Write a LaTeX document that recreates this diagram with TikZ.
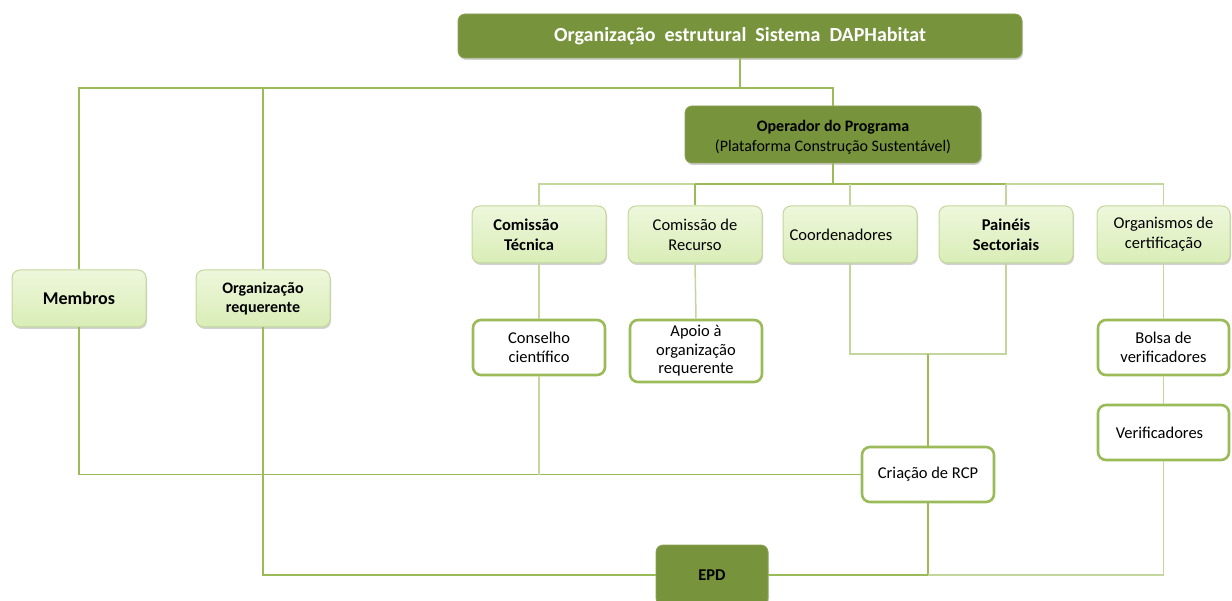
\documentclass[tikz,border=0pt]{standalone}
\usepackage{fontspec}
\setmainfont{Carlito}
\usetikzlibrary{shadows}
\definecolor{dkgreen}{HTML}{77933C}
\definecolor{lngreen}{HTML}{9BBB59}
\definecolor{ltline}{HTML}{C3D69B}
\definecolor{fillA}{HTML}{EEF7DC}
\definecolor{fillB}{HTML}{D9EDB6}
\tikzset{
  x=1pt, y=-1pt,
  shad/.style={drop shadow={shadow xshift=1pt,shadow yshift=-2pt,opacity=0.3,fill=black!60}},
  darkbox/.style={rectangle, rounded corners=7pt, fill=dkgreen, draw=dkgreen!85!white, line width=0.8pt, shad, align=center, inner sep=2pt},
  lightbox/.style={rectangle, rounded corners=8pt, top color=fillA, bottom color=fillB, draw=ltline, line width=1pt, shad, align=center, minimum width=134pt, minimum height=57pt, inner sep=2pt, font=\fontsize{16.5}{20}\selectfont},
  whitebox/.style={rectangle, rounded corners=8pt, fill=white, draw=lngreen, line width=2.6pt, align=center, minimum width=132pt, minimum height=55pt, inner sep=2pt, font=\fontsize{16.5}{19}\selectfont},
  ln/.style={draw=lngreen, line width=1.5pt},
  lnl/.style={draw=ltline, line width=1.5pt},
}
\begin{document}
\begin{tikzpicture}
\useasboundingbox (0,0) rectangle (1232,601);
\coordinate (b1) at (0,88);
\coordinate (b2) at (0,184);
\coordinate (b3) at (0,354);

\node[darkbox, minimum width=564pt, minimum height=44pt, text=white, font=\bfseries\fontsize{20}{24}\selectfont] (top) at (740,36) {Organização\ \ estrutural\ \ Sistema\ \ DAPHabitat};
\node[darkbox, minimum width=296pt, minimum height=57pt, font=\fontsize{16}{20}\selectfont] (op) at (833,134.5) {\rule{0pt}{17pt}\textbf{Operador do Programa}\\(Plataforma Construção Sustentável)};

\node[lightbox] (ct) at (539,234.5) {\hspace*{-26pt}\textbf{Comissão}\\\hspace*{-20pt}\textbf{Técnica}};
\node[lightbox] (cr) at (695,234.5) {Comissão de\\Recurso};
\node[lightbox] (co) at (850,234.5) {\hspace*{-18pt}Coordenadores};
\node[lightbox] (ps) at (1006,234.5) {\textbf{Painéis}\\\textbf{Sectoriais}};
\node[lightbox, minimum width=133pt] (oc) at (1163.5,234.5) {Organismos de\\certificação};

\node[lightbox, font=\bfseries\fontsize{18}{21}\selectfont] (me) at (79,298.5) {Membros};
\node[lightbox, font=\bfseries\fontsize{16}{19.5}\selectfont] (or) at (263,298.5) {Organização\\requerente};

\node[whitebox] (cc) at (539,347.5) {Conselho\\científico};
\node[whitebox, minimum height=62pt, font=\fontsize{16.5}{18.5}\selectfont] (ap) at (696,351) {Apoio à\\organização\\requerente};
\node[whitebox, minimum width=131pt] (bv) at (1163.5,347.5) {Bolsa de\\verificadores};
\node[whitebox, minimum width=131pt] (ve) at (1163.5,432.5) {\hspace*{-8pt}Verificadores};
\node[whitebox] (rcp) at (928,474.5) {Criação de RCP};
\node[darkbox, minimum width=112pt, minimum height=60pt, font=\bfseries\fontsize{16.5}{20}\selectfont] (epd) at (712,575) {EPD};

% lines
\draw[ln] (top.south) -- (top.south |- b1);
\draw[ln] (me.north) |- (op.north |- b1) -- (op.north);
\draw[ln] (or.north) -- (or.north |- b1);
\draw[ln] (op.south) -- (op.south |- b2);
\draw[lnl] (ct.north) |- (cr.north |- b2);
\draw[ln] (cr.north |- b2) -- (ps.north |- b2);
\draw[lnl] (ps.north |- b2) -| (oc.north);
\draw[ln] (cr.north |- b2) -- (cr.north);
\draw[lnl] (co.north |- b2) -- (co.north);
\draw[lnl] (ps.north |- b2) -- (ps.north);
\draw[lnl] (ct) -- (cc);
\draw[lnl] (cr.south) -- (ap.north);
\draw[lnl] (co.south) |- (ps.south |- b3) -- (ps.south);
\draw[ln] (rcp.north |- b3) -- (rcp.north);
\draw[ln] (me.south) |- (rcp.west);
\draw[lnl] (cc.south) -- (cc.south |- rcp.west);
\draw[ln] (or.south) |- (epd.west);
\draw[ln] (epd.east) -| (rcp.south);
\draw[lnl] (rcp.south |- epd.east) -| (ve.south);
\draw[lnl] (oc) -- (bv);
\draw[lnl] (bv) -- (ve);
\end{tikzpicture}
\end{document}
